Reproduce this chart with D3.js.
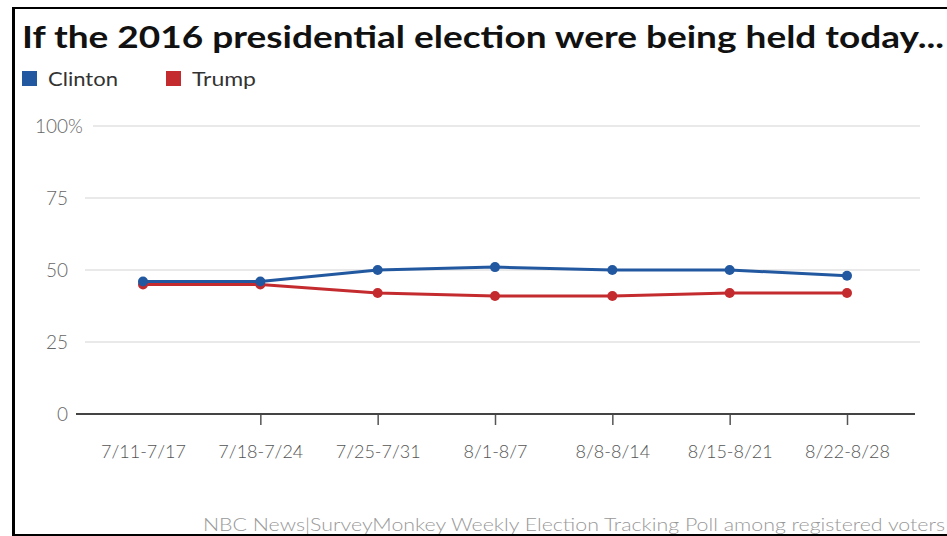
<!DOCTYPE html>
<html><head><meta charset="utf-8">
<script src="https://cdn.jsdelivr.net/npm/d3@7"></script>
<style>
html,body{margin:0;padding:0;background:#fff;}
svg{display:block;}
text{font-family:Lato,"Open Sans",sans-serif;}
</style></head>
<body>
<svg id="c" width="947" height="536"></svg>
<script>
const weeks = ["7/11-7/17","7/18-7/24","7/25-7/31","8/1-8/7","8/8-8/14","8/15-8/21","8/22-8/28"];
const clinton = [46,46,50,51,50,50,48];
const trump = [45,45,42,41,41,42,42];
const yTicks = [0,25,50,75,100];
const seriesNames = ["Clinton","Trump"];
const colors = {Clinton:"#22589f", Trump:"#c42b2f"};

const svg = d3.select("#c");
// border
svg.append("rect").attr("x",0).attr("y",0).attr("width",947).attr("height",536).attr("fill","#fff");
svg.append("rect").attr("x",12).attr("y",7).attr("width",3).attr("height",529).attr("fill","#000");
svg.append("rect").attr("x",12).attr("y",7).attr("width",935).attr("height",2).attr("fill","#000");
svg.append("rect").attr("x",12).attr("y",534).attr("width",935).attr("height",2).attr("fill","#000");

// title
svg.append("text").attr("x",22).attr("y",48)
  .attr("font-size",31).attr("font-weight",700).attr("fill","#111")
  .attr("textLength",922).attr("lengthAdjust","spacingAndGlyphs")
  .text("If the 2016 presidential election were being held today...");

// legend
const legX = [22,166];
const legW = [70,64];
seriesNames.forEach((n,i)=>{
  svg.append("rect").attr("x",legX[i]).attr("y",71).attr("width",15).attr("height",15).attr("fill",colors[n]);
  svg.append("text").attr("x",legX[i]+26).attr("y",86).attr("font-size",20).attr("fill","#333")
    .attr("textLength",legW[i]).attr("lengthAdjust","spacingAndGlyphs").text(n);
});

const x = d3.scalePoint().domain(weeks).range([143,847]);
const y = d3.scaleLinear().domain([0,100]).range([414,126]);

// gridlines
yTicks.filter(t=>t>0).forEach(t=>{
  svg.append("line").attr("x1",t===100?93:85).attr("x2",920).attr("y1",y(t)).attr("y2",y(t))
    .attr("stroke","#e9e9e9").attr("stroke-width",2);
});
// y labels
yTicks.forEach(t=>{
  svg.append("text").attr("x",68).attr("y",y(t)+7).attr("text-anchor","end")
    .attr("font-size",19).attr("font-weight",300).attr("fill","#666").text(t);
  if(t===100){
    svg.append("text").attr("x",68).attr("y",y(t)+7).attr("font-size",19).attr("font-weight",300).attr("fill","#666").text("%");
  }
});

// x axis
const xAxis = d3.axisBottom(x).tickSize(11).tickSizeOuter(0);
const ax = svg.append("g").attr("transform","translate(0,414)").call(xAxis);
ax.select(".domain").remove();
ax.selectAll(".tick line").attr("stroke","#555").attr("stroke-width",1.5)
  .filter((d,i)=>i===0).remove();
ax.selectAll(".tick text").attr("y",31).attr("font-size",18).attr("font-weight",300)
  .attr("fill","#555").attr("font-family","Lato, 'Open Sans', sans-serif");
svg.append("line").attr("x1",76).attr("x2",915).attr("y1",414).attr("y2",414).attr("stroke","#444").attr("stroke-width",2);

// lines
const data = {Clinton:clinton, Trump:trump};
const line = d3.line().x((d,i)=>x(weeks[i])).y(d=>y(d));
["Trump","Clinton"].forEach(n=>{
  svg.append("path").datum(data[n]).attr("d",line).attr("fill","none")
    .attr("stroke",colors[n]).attr("stroke-width",3);
  svg.selectAll(null).data(data[n]).enter().append("circle")
    .attr("cx",(d,i)=>x(weeks[i])).attr("cy",d=>y(d)).attr("r",5).attr("fill",colors[n]);
});

// footer
svg.append("text").attr("x",203).attr("y",531)
  .attr("font-size",17).attr("font-weight",300).attr("fill","#999")
  .attr("textLength",742).attr("lengthAdjust","spacingAndGlyphs")
  .text("NBC News|SurveyMonkey Weekly Election Tracking Poll among registered voters");
</script>
</body></html>
